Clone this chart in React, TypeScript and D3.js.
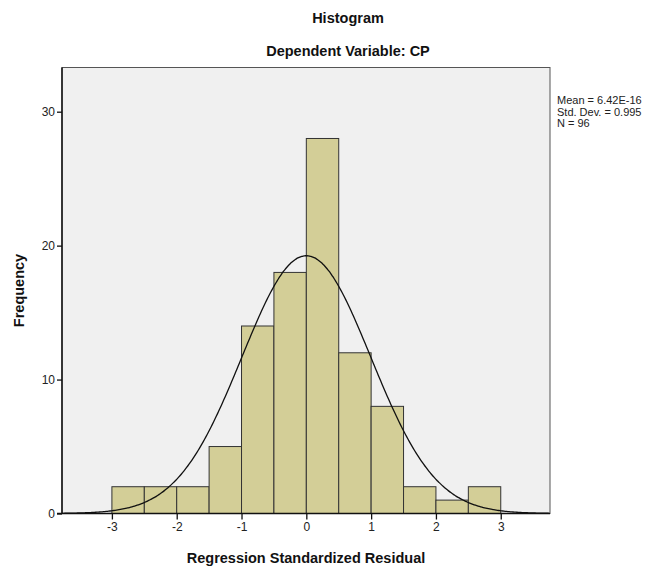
import React, { useEffect, useRef } from "react";
import * as d3 from "d3";

// histogram bins (lower edge, count), bin width 0.5
const binStarts = [-3, -2.5, -2, -1.5, -1, -0.5, 0, 0.5, 1, 1.5, 2, 2.5];
const binCounts = [2, 2, 2, 5, 14, 18, 28, 12, 8, 2, 1, 2];
const binWidth = 0.5;

const xTicks = [-3, -2, -1, 0, 1, 2, 3];
const yTicks = [0, 10, 20, 30];

const statMean = 6.42e-16;
const statSd = 0.995;
const statN = 96;
const statLines = ["Mean = 6.42E-16", "Std. Dev. = 0.995", "N = 96"];

const App: React.FC = () => {
  const ref = useRef<SVGSVGElement | null>(null);
  const width = 659;
  const height = 569;

  useEffect(() => {
    if (!ref.current) return;
    const svg = d3.select(ref.current);
    svg.selectAll("*").remove();

    const font = "'Liberation Sans', Arial, sans-serif";
    const left = 62, right = 550, top = 67.5, bottom = 513.5;

    const x = d3.scaleLinear().domain([-3.77, 3.76]).range([left, right]);
    const y = d3.scaleLinear().domain([0, 33.3]).range([bottom, top]);

    // plot background
    svg.append("rect")
      .attr("x", left).attr("y", top)
      .attr("width", right - left).attr("height", bottom - top)
      .attr("fill", "#f0f0f0")
      .attr("stroke", "#555").attr("stroke-width", 1);

    // bars
    svg.append("g")
      .selectAll("rect")
      .data(binStarts.map((s, i) => ({ s, c: binCounts[i] })))
      .enter()
      .append("rect")
      .attr("x", d => x(d.s))
      .attr("y", d => y(d.c))
      .attr("width", d => x(d.s + binWidth) - x(d.s))
      .attr("height", d => y(0) - y(d.c))
      .attr("fill", "#d3ce97")
      .attr("stroke", "#333")
      .attr("stroke-width", 1);

    // normal curve from mean / sd / N
    const pts = d3.range(-3.77, 3.761, 0.02).map(v => ({
      v,
      f: statN * binWidth * Math.exp(-0.5 * ((v - statMean) / statSd) ** 2) / (statSd * Math.sqrt(2 * Math.PI)),
    }));
    const line = d3.line<{ v: number; f: number }>()
      .x(d => x(d.v))
      .y(d => y(d.f))
      .curve(d3.curveBasis);
    svg.append("path")
      .datum(pts)
      .attr("d", line)
      .attr("fill", "none")
      .attr("stroke", "#111")
      .attr("stroke-width", 1.3);

    // axes
    const yAxis = svg.append("g")
      .attr("transform", `translate(${left},0)`)
      .call(d3.axisLeft(y).tickValues(yTicks).tickSize(5).tickPadding(2).tickFormat(d => String(d)));
    yAxis.select(".domain").attr("stroke", "#111").attr("stroke-width", 1.5).attr("d", `M0,${top}V${bottom}`);
    yAxis.selectAll(".tick line").attr("stroke", "#111").attr("stroke-width", 1.3);
    yAxis.selectAll("text").attr("font-family", font).attr("font-size", 12).attr("fill", "#222");

    const xAxis = svg.append("g")
      .attr("transform", `translate(0,${bottom})`)
      .call(d3.axisBottom(x).tickValues(xTicks).tickSize(6).tickPadding(3).tickFormat(d => String(d)));
    xAxis.select(".domain").attr("stroke", "#111").attr("stroke-width", 1.5).attr("d", `M${left - 5},0H${right}`);
    xAxis.selectAll(".tick line").attr("stroke", "#111").attr("stroke-width", 1.3);
    xAxis.selectAll("text").attr("font-family", font).attr("font-size", 12).attr("fill", "#222");

    // titles
    svg.append("text").attr("x", 348).attr("y", 23).attr("text-anchor", "middle")
      .attr("font-family", font).attr("font-size", 14.5).attr("font-weight", "bold").attr("fill", "#111")
      .text("Histogram");
    svg.append("text").attr("x", 348).attr("y", 56).attr("text-anchor", "middle")
      .attr("font-family", font).attr("font-size", 14.5).attr("font-weight", "bold").attr("fill", "#111")
      .text("Dependent Variable: CP");
    svg.append("text").attr("x", (left + right) / 2).attr("y", 563).attr("text-anchor", "middle")
      .attr("font-family", font).attr("font-size", 14.5).attr("font-weight", "bold").attr("fill", "#111")
      .text("Regression Standardized Residual");
    svg.append("text")
      .attr("transform", `translate(24,${(top + bottom) / 2}) rotate(-90)`)
      .attr("text-anchor", "middle")
      .attr("font-family", font).attr("font-size", 14.5).attr("font-weight", "bold").attr("fill", "#111")
      .text("Frequency");

    // stats box text
    svg.append("g").selectAll("text").data(statLines).enter().append("text")
      .attr("x", 557).attr("y", (_, i) => 104 + i * 11.5)
      .attr("font-family", font).attr("font-size", 11).attr("fill", "#222")
      .text(d => d);
  }, []);

  return <svg ref={ref} width={width} height={height} style={{ position: "absolute", left: 0, top: 0, background: "#fff" }} />;
};

export default App;
